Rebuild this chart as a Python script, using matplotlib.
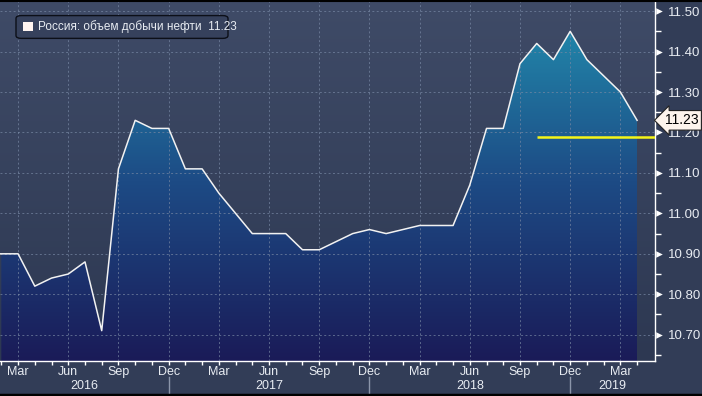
import numpy as np
import pandas as pd
import matplotlib.pyplot as plt
from matplotlib.colors import LinearSegmentedColormap
from matplotlib.transforms import blended_transform_factory
from matplotlib.patches import FancyBboxPatch, Rectangle

# ===========================
# Data, monthly Feb 2016 .. Apr 2019
months = pd.period_range('2016-02', '2019-04', freq='M')
oil_output = [10.90, 10.90, 10.82, 10.84, 10.85, 10.88, 10.71, 11.11, 11.23, 11.21, 11.21,
              11.11, 11.11, 11.05, 11.00, 10.95, 10.95, 10.95, 10.91, 10.91, 10.93, 10.95, 10.96,
              10.95, 10.96, 10.97, 10.97, 10.97, 11.07, 11.21, 11.21, 11.37, 11.42, 11.38, 11.45,
              11.38, 11.34, 11.30, 11.23]
series_name = 'Россия: объем добычи нефти'
yellow_level = 11.19
yellow_start = '2018-10'
y_ticks = [10.70, 10.80, 10.90, 11.00, 11.10, 11.20, 11.30, 11.40, 11.50]
month_labels = {3: 'Mar', 6: 'Jun', 9: 'Sep', 12: 'Dec'}

# ===========================
# Colours / fonts
plt.rcParams['font.family'] = ['Liberation Sans', 'DejaVu Sans']
fig_bg = '#323d57'
txt_col = '#e8ecf2'
grid_col = '#7888a4'

x = np.arange(len(months))
y = np.array(oil_output)
xmin, xmax = -0.08, len(months) + 0.07
ymin, ymax = 10.635, 11.525

W, H = 702, 396
fig = plt.figure(figsize=(W / 100, H / 100), dpi=100, facecolor=fig_bg)
ax = fig.add_axes([0, 35 / H, 655 / W, 1 - 36 / H])
ax.set_xlim(xmin, xmax)
ax.set_ylim(ymin, ymax)

# background gradient of plot area
bg_cmap = LinearSegmentedColormap.from_list('bg', ['#2d3852', '#3f4b67'])
grad = np.linspace(0, 1, 256).reshape(-1, 1)
ax.imshow(grad, extent=[xmin, xmax, ymin, ymax], origin='lower', aspect='auto',
          cmap=bg_cmap, zorder=0)

# gradient area fill, clipped to the area under the line
fill_cmap = LinearSegmentedColormap.from_list('fill', ['#1a1b58', '#1d4b85', '#2290b0'])
poly = ax.fill_between(x, y, ymin, color='none', lw=0)
area = ax.imshow(grad, extent=[x[0], x[-1], ymin, ymax], origin='lower', aspect='auto',
                 cmap=fill_cmap, zorder=1)
area.set_clip_path(poly.get_paths()[0], transform=ax.transData)

# line (starts at the left edge)
ax.plot(np.r_[xmin, x], np.r_[y[0], y], color='#f2f2f2', lw=1.1, zorder=4, clip_on=False)

# grid
q_idx = [i for i, m in enumerate(months) if m.month in month_labels]
for i in q_idx:
    ax.axvline(i, color=grid_col, lw=0.7, ls=(0, (2, 2.5)), alpha=0.7, zorder=3)
for t in y_ticks:
    ax.axhline(t, color=grid_col, lw=0.7, ls=(0, (2, 2.5)), alpha=0.7, zorder=3)

# yellow line
xs = list(months.astype(str)).index(yellow_start)
ax.plot([xs, xmax], [yellow_level, yellow_level], color='#f5f518', lw=1.8, zorder=5,
        solid_capstyle='butt')

# axes frame
for s in ['top', 'left']:
    ax.spines[s].set_visible(False)
ax.spines['right'].set_color('white')
ax.spines['bottom'].set_color('white')
ax.spines['right'].set_linewidth(1)
ax.spines['bottom'].set_linewidth(1)

# right axis ticks
ax.yaxis.tick_right()
ax.set_yticks(y_ticks)
ax.set_yticklabels(['%.2f' % t for t in y_ticks])
ax.set_yticks([t + 0.05 for t in y_ticks[:-1]] + [y_ticks[0] - 0.05], minor=True)
ax.tick_params(axis='y', which='major', length=0, pad=9, labelsize=9.5, labelcolor=txt_col)
ax.tick_params(axis='y', which='minor', length=4, width=1, color='white', direction='out')
tri = blended_transform_factory(ax.transAxes, ax.transData)
ax.scatter([1.006] * len(y_ticks), y_ticks, marker='>', s=22, color='white', lw=0,
           transform=tri, clip_on=False, zorder=6)

# bottom axis ticks
ax.set_xticks(x, minor=True)
ax.set_xticks([])
ax.tick_params(axis='x', which='minor', length=3, width=1, color='white', direction='out')
ax.tick_params(axis='x', which='major', length=0)

bt = blended_transform_factory(ax.transData, fig.transFigure)
for i in q_idx:
    ax.text(i, 1 - 372 / H, month_labels[months[i].month], transform=bt, ha='center',
            va='center', fontsize=9, color=txt_col)

# year labels and separators
dec_idx = [i for i, m in enumerate(months) if m.month == 12]
bounds = [xmin] + dec_idx + [xmax]
years = sorted(set(m.year for m in months))
for k, yr in enumerate(years):
    ax.text((bounds[k] + bounds[k + 1]) / 2, 1 - 386 / H, str(yr), transform=bt,
            ha='center', va='center', fontsize=9, color=txt_col)
for i in dec_idx:
    ax.plot([i, i], [1 - 377 / H, 1 - 394 / H], transform=bt, color='#8b95aa', lw=1,
            clip_on=False)

# last value tag
ax.text(1.0 + 10 / 655, y[-1], '%.2f' % y[-1], transform=tri, ha='left', va='center',
        fontsize=10, color='black', zorder=7,
        bbox=dict(boxstyle='larrow,pad=0.2', fc='#fdf4ec', ec='#222222', lw=0.8))

# legend box
ax.add_patch(FancyBboxPatch((16 / 655, 1 - 41 / 395), 212 / 655, 25 / 395,
                            boxstyle='round,pad=0,rounding_size=0.008',
                            transform=ax.transAxes, fc='#36415c', ec='#0c0f18', lw=1,
                            zorder=7))
ax.add_patch(Rectangle((23 / 655, 1 - 33 / 395), 10 / 655, 10 / 395, transform=ax.transAxes,
                       fc='#fff4f0', ec='none', zorder=8))
ax.text(38 / 655, 1 - 28.5 / 395, series_name + '  %.2f' % y[-1], transform=ax.transAxes,
        fontsize=8.5, color=txt_col, va='center', ha='left', zorder=8)

# black border lines at top/bottom
fig.add_artist(plt.Line2D([0, 1], [1 - 0.5 / H, 1 - 0.5 / H], color='black', lw=1.5))
fig.add_artist(plt.Line2D([0, 1], [1.5 / H, 1.5 / H], color='black', lw=2.5))

fig.savefig('out.png', dpi=100, facecolor=fig_bg)
